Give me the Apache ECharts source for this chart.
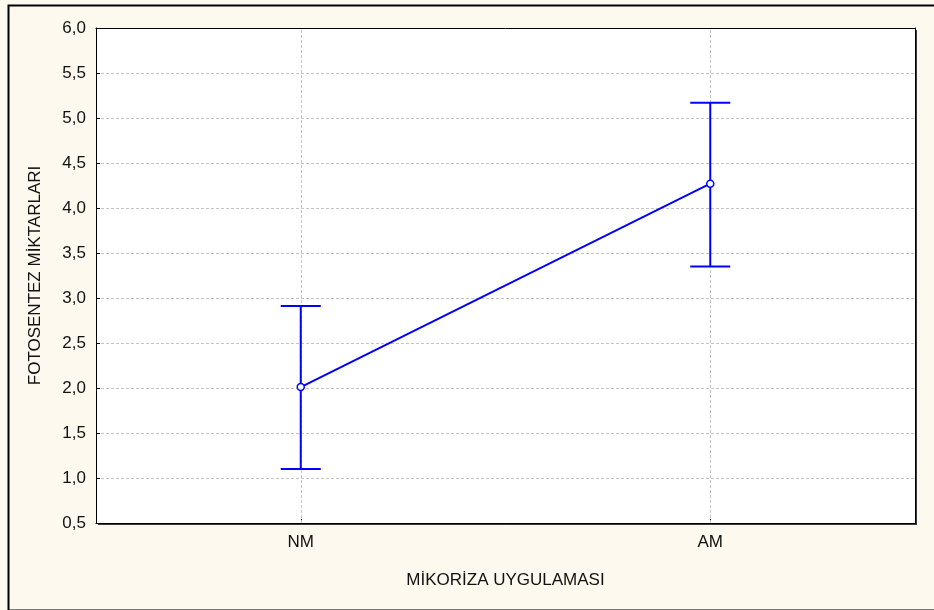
<!DOCTYPE html>
<html><head><meta charset="utf-8">
<script src="https://cdn.jsdelivr.net/npm/echarts@6/dist/echarts.min.js"></script>
<style>html,body{margin:0;padding:0;background:#FDF9EE}#c{width:934px;height:610px}</style>
</head><body><div id="c"></div>
<script>
const categories = ['NM', 'AM'];
const means = [2.01, 4.27];
const lower = [1.10, 3.35];
const upper = [2.91, 5.17];
const yTicks = { min: 0.5, max: 6.0, interval: 0.5 };

const chart = echarts.init(document.getElementById('c'), null, {renderer: 'canvas'});
const font = 'Liberation Sans, Arial, sans-serif';
const errData = categories.map((c, i) => [i, lower[i], upper[i]]);
const grey = '#c4c4c4';

chart.setOption({
  backgroundColor: '#FDF9EE',
  animation: false,
  graphic: [{
    type: 'rect', left: 6, top: 3, z: -1, silent: true,
    shape: { x: 0, y: 0, width: 940, height: 605 },
    style: { fill: 'none', stroke: '#000', lineWidth: 2 }
  }],
  grid: {
    left: 96, top: 28, right: 19, bottom: 87, show: true,
    backgroundColor: '#fff', borderWidth: 0,
    shadowColor: '#3a3a3a', shadowOffsetX: 2, shadowOffsetY: 2, shadowBlur: 0
  },
  xAxis: [{
    type: 'category', data: categories, boundaryGap: true,
    name: 'MİKORİZA UYGULAMASI', nameLocation: 'middle', nameGap: 49,
    nameTextStyle: { fontFamily: font, fontSize: 17, color: '#111' },
    axisLine: { lineStyle: { color: '#000', width: 1 } },
    axisTick: { show: true, inside: true, alignWithLabel: true, length: 4, lineStyle: { color: '#000' } },
    axisLabel: { fontFamily: font, fontSize: 17, color: '#111', margin: 11 },
    splitLine: { show: false }
  }, {
    type: 'category', data: categories, position: 'top',
    axisLine: { show: true, lineStyle: { color: '#000', width: 1 } },
    axisTick: { show: false }, axisLabel: { show: false }, splitLine: { show: false }
  }],
  yAxis: [{
    type: 'value', min: yTicks.min, max: yTicks.max, interval: yTicks.interval,
    name: 'FOTOSENTEZ MİKTARLARI', nameLocation: 'middle', nameGap: 52, nameRotate: 90,
    nameTextStyle: { fontFamily: font, fontSize: 17, color: '#111' },
    axisLine: { show: true, lineStyle: { color: '#000', width: 1 } },
    axisTick: { show: true, inside: true, length: 4, lineStyle: { color: '#000' } },
    axisLabel: { fontFamily: font, fontSize: 17, color: '#111', margin: 10,
      formatter: v => v.toFixed(1).replace('.', ',') },
    splitLine: { show: true, lineStyle: { color: grey, type: [3, 2], width: 1 } }
  }, {
    type: 'value', min: yTicks.min, max: yTicks.max, interval: yTicks.interval, position: 'right',
    axisLine: { show: true, lineStyle: { color: '#000', width: 1 } },
    axisTick: { show: false }, axisLabel: { show: false }, splitLine: { show: false }
  }],
  series: [
    {
      type: 'line', data: means, symbol: 'circle', symbolSize: 7, z: 5,
      lineStyle: { color: '#0000ff', width: 2 },
      itemStyle: { color: '#fff', borderColor: '#0000ff', borderWidth: 1.5 },
      markLine: {
        silent: true, symbol: 'none', label: { show: false }, z: 1,
        lineStyle: { color: grey, type: [3, 2], width: 1 },
        data: categories.map(c => ({ xAxis: c }))
      }
    },
    {
      type: 'custom', data: errData, z: 4,
      renderItem: function (params, api) {
        const x = api.value(0);
        const lo = api.coord([x, api.value(1)]);
        const hi = api.coord([x, api.value(2)]);
        const w = 20;
        const st = { stroke: '#0000ff', lineWidth: 2 };
        return { type: 'group', children: [
          { type: 'line', shape: { x1: lo[0], y1: lo[1], x2: hi[0], y2: hi[1] }, style: st },
          { type: 'line', shape: { x1: lo[0] - w, y1: lo[1], x2: lo[0] + w, y2: lo[1] }, style: st },
          { type: 'line', shape: { x1: hi[0] - w, y1: hi[1], x2: hi[0] + w, y2: hi[1] }, style: st }
        ]};
      }
    }
  ]
});
</script></body></html>
